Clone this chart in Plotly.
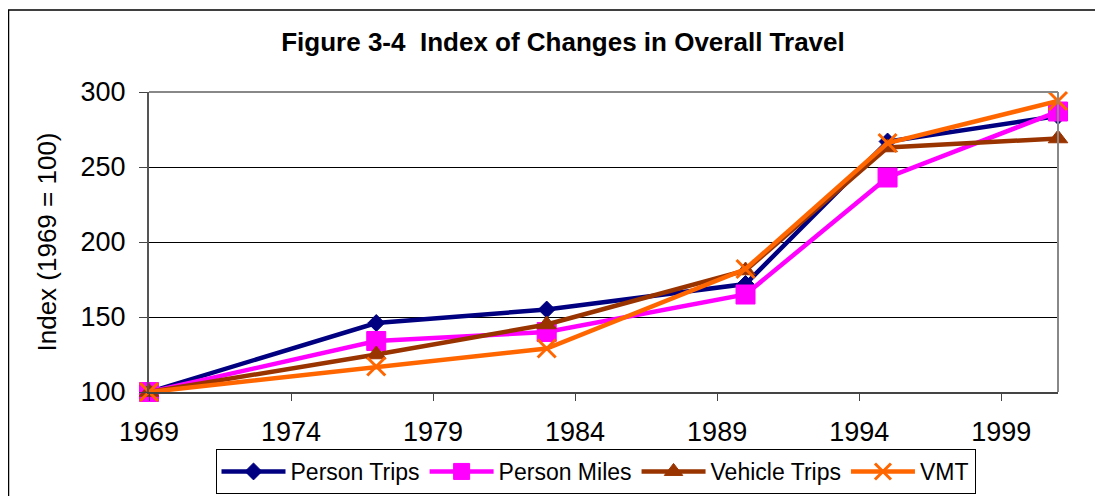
import plotly.graph_objects as go

years = [1969, 1977, 1983, 1990, 1995, 2001]
person_trips = [100, 146, 155, 172, 267, 284]
person_miles = [100, 134, 140, 165, 243, 287]
vehicle_trips = [100, 125, 145, 181, 263, 269]
vmt = [100, 117, 129, 182, 266, 294]

series = [
    ("Person Trips", person_trips, "#000080", "diamond", 13, 1),
    ("Person Miles", person_miles, "#FF00FF", "square", 19, 1),
    ("Vehicle Trips", vehicle_trips, "#993300", "triangle-up", 17, 1),
    ("VMT", vmt, "#FF6600", "x-thin-open", 18, 3),
]

fig = go.Figure()
for name, vals, color, sym, size, mlw in series:
    fig.add_trace(go.Scatter(
        x=years, y=vals, name=name, mode="lines+markers",
        line=dict(color=color, width=4.5),
        marker=dict(symbol=sym, size=size, color=color,
                    line=dict(color=color, width=mlw)),
        cliponaxis=False,
    ))

# page body has an 8px margin; figure coordinates are offset accordingly
W, H = 1087, 488
L, R, T, B = 141, 37, 84, 104
pw, ph = W - L - R, H - T - B

font = "Liberation Sans, Arial, sans-serif"
fig.update_layout(
    width=W, height=H,
    margin=dict(l=L, r=R, t=T, b=B, pad=0, autoexpand=False),
    paper_bgcolor="white", plot_bgcolor="white",
    font=dict(family=font, color="black", size=26),
    title=dict(text="<b>Figure 3-4  Index of Changes in Overall Travel</b>",
               x=555 / W, xanchor="center", y=1 - 34 / H, yanchor="middle",
               font=dict(size=26, family=font), automargin=False),
    showlegend=True,
    legend=dict(orientation="h", x=(587.5 - L) / pw, xanchor="center",
                y=-(449 - 8 - (H - B)) / ph, yanchor="top",
                bordercolor="black", borderwidth=1, font=dict(size=23),
                itemwidth=64, tracegroupgap=0),
    xaxis=dict(range=[1969, 2001], tickvals=[1969, 1974, 1979, 1984, 1989, 1994, 1999],
               ticks="outside", ticklen=7, tickcolor="#444", showgrid=False,
               showline=True, linecolor="#444", linewidth=2, mirror=False,
               tickfont=dict(size=27), zeroline=False, ticklabelstandoff=8,
               automargin=False),
    yaxis=dict(range=[100, 300], tickvals=[100, 150, 200, 250, 300],
               ticks="outside", ticklen=8, tickcolor="#444",
               showgrid=True, gridcolor="black", gridwidth=1,
               showline=True, linecolor="#555", linewidth=2,
               tickfont=dict(size=27), zeroline=False, ticklabelstandoff=8,
               automargin=False,
               title=dict(text="Index (1969 = 100)", font=dict(size=26), standoff=16)),
    shapes=[
        dict(type="line", xref="paper", yref="paper", x0=0, x1=1, y0=1, y1=1,
             line=dict(color="#888", width=2)),
        dict(type="line", xref="paper", yref="paper", x0=1, x1=1, y0=0, y1=1,
             line=dict(color="#888", width=2)),
        dict(type="rect", xref="paper", yref="paper",
             x0=(0.5 - L) / pw, x1=(W + 20 - L) / pw,
             y0=-(H + 20 - (H - B)) / ph, y1=((H - B) - 2) / ph,
             line=dict(color="black", width=1.5), layer="below"),
    ],
)

fig.write_html("out.html")
